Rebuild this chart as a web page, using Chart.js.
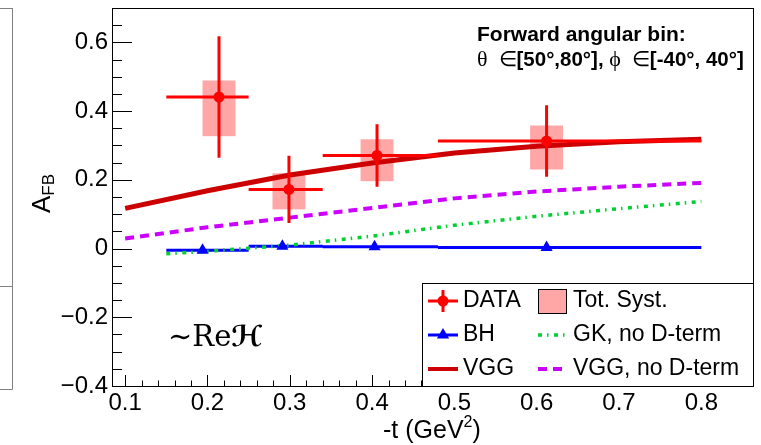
<!DOCTYPE html>
<html>
<head>
<meta charset="utf-8">
<script src="https://cdn.jsdelivr.net/npm/chart.js@4.4.1/dist/chart.umd.min.js"></script>
<style>
  html, body { margin: 0; padding: 0; background: #fff; }
  #wrap { width: 761px; height: 445px; }
</style>
</head>
<body>
<div id="wrap"><canvas id="afbChart" width="761" height="445"></canvas></div>
<script>
// measured A_FB, forward angular bin
const tData = [0.214, 0.299, 0.406, 0.612];
const tBinLo = [0.15, 0.25, 0.34, 0.48];
const tBinHi = [0.25, 0.34, 0.48, 0.80];
const afbData = [0.441, 0.172, 0.271, 0.313];
const afbStat = [0.177, 0.098, 0.091, 0.104];
const systLo = [0.327, 0.114, 0.196, 0.230];
const systHi = [0.489, 0.219, 0.318, 0.358];

// Bethe-Heitler only
const tBH = [0.194, 0.291, 0.403, 0.612];
const afbBH = [-0.005, 0.007, 0.005, 0.003];

// model curves
const tModel = [0.1, 0.2, 0.3, 0.4, 0.5, 0.6, 0.7, 0.8];
const afbVGG = [0.117, 0.168, 0.214, 0.249, 0.278, 0.298, 0.311, 0.318];
const afbVGGnoD = [0.029, 0.062, 0.090, 0.118, 0.146, 0.166, 0.180, 0.191];
const tGK = [0.15, 0.2, 0.3, 0.4, 0.5, 0.6, 0.7, 0.8];
const afbGK = [-0.015, -0.008, 0.010, 0.036, 0.068, 0.094, 0.116, 0.137];

const xTicks = [0.1, 0.2, 0.3, 0.4, 0.5, 0.6, 0.7, 0.8];
const xTickLabels = ['0.1', '0.2', '0.3', '0.4', '0.5', '0.6', '0.7', '0.8'];
const yTicks = [-0.4, -0.2, 0, 0.2, 0.4, 0.6];
const yTickLabels = ['\u22120.4', '\u22120.2', '0', '0.2', '0.4', '0.6'];

const SANS = "'Liberation Sans', Arial, Helvetica, sans-serif";
const RED = '#ff0000', SYST = '#ffa6a6', DARKRED = '#cc0000';
const BLUE = '#0000ff', GREEN = '#00d030', MAGENTA = '#cc00ff';
const GK_DASH = [4, 5, 1.5, 5.5], NOD_DASH = [9, 6];

// error bars as broken line segments
const hErr = tData.flatMap((t, i) => [
  {x: tBinLo[i], y: afbData[i]}, {x: tBinHi[i], y: afbData[i]}, {x: tBinHi[i], y: null}]);
const vErr = tData.flatMap((t, i) => [
  {x: t, y: afbData[i] - afbStat[i]}, {x: t, y: afbData[i] + afbStat[i]}, {x: t, y: null}]);
const bhBins = tBH.flatMap((t, i) => [
  {x: tBinLo[i], y: afbBH[i]}, {x: tBinHi[i], y: afbBH[i]}, {x: tBinHi[i], y: null}]);

const toXY = (xs, ys) => xs.map((x, i) => ({x: x, y: ys[i]}));

const systBoxes = {
  id: 'systBoxes',
  beforeDatasetsDraw(chart) {
    const ctx = chart.ctx, xs = chart.scales.x, ys = chart.scales.y;
    ctx.save();
    ctx.fillStyle = SYST;
    tData.forEach((t, i) => {
      const x0 = xs.getPixelForValue(t - 0.02), x1 = xs.getPixelForValue(t + 0.02);
      const y0 = ys.getPixelForValue(systHi[i]), y1 = ys.getPixelForValue(systLo[i]);
      ctx.fillRect(x0, y0, x1 - x0, y1 - y0);
    });
    ctx.restore();
  }
};

function line(ctx, x0, y0, x1, y1) {
  ctx.beginPath(); ctx.moveTo(x0, y0); ctx.lineTo(x1, y1); ctx.stroke();
}

const decor = {
  id: 'decor',
  afterDraw(chart) {
    const ctx = chart.ctx, a = chart.chartArea, xs = chart.scales.x, ys = chart.scales.y;
    ctx.save();

    // piece of the neighbouring pad
    ctx.strokeStyle = '#808080'; ctx.lineWidth = 1;
    line(ctx, 12.5, 8, 12.5, 389.5);
    line(ctx, 0, 8.5, 12.5, 8.5);
    line(ctx, 0, 286.5, 12.5, 286.5);
    line(ctx, 0, 389.5, 12.5, 389.5);

    // frame
    ctx.strokeStyle = '#000'; ctx.lineWidth = 1;
    ctx.strokeRect(Math.round(a.left) + 0.5, Math.round(a.top) + 0.5, Math.round(a.width) - 1, Math.round(a.height));

    // inward ticks
    for (let i = 5; i <= 43; i++) {
      const px = Math.round(xs.getPixelForValue(i * 0.02)) + 0.5;
      const len = i % 5 === 0 ? 11 : 5.5;
      line(ctx, px, a.bottom, px, a.bottom - len);
    }
    for (let i = -8; i <= 13; i++) {
      const py = Math.round(ys.getPixelForValue(i * 0.05)) + 0.5;
      const len = i % 4 === 0 ? 20 : 10;
      line(ctx, a.left, py, a.left + len, py);
    }

    // axis titles
    ctx.fillStyle = '#000';
    ctx.textBaseline = 'alphabetic';
    ctx.textAlign = 'left';
    ctx.font = '25px ' + SANS;
    let x = 383;
    ctx.fillText('-t (GeV', x, 438);
    x += ctx.measureText('-t (GeV').width;
    ctx.font = '16px ' + SANS;
    ctx.fillText('2', x, 427);
    x += ctx.measureText('2').width;
    ctx.font = '25px ' + SANS;
    ctx.fillText(')', x, 438);

    ctx.save();
    ctx.translate(50, 213);
    ctx.rotate(-Math.PI / 2);
    ctx.font = '26px ' + SANS;
    ctx.fillText('A', 0, 0);
    const wA = ctx.measureText('A').width;
    ctx.font = '17px ' + SANS;
    ctx.fillText('FB', wA, 4);
    ctx.restore();

    // annotation
    ctx.font = 'bold 21px ' + SANS;
    ctx.fillText('Forward angular bin:', 477, 41);
    const parts = [
      ['22px "Liberation Serif", serif', '\u03b8  '],
      ['21px ' + SANS, '\u2208'],
      ['bold 20.5px ' + SANS, '[50\u00b0,80\u00b0], '],
      ['22px "Liberation Serif", serif', '\u03d5  '],
      ['21px ' + SANS, '\u2208'],
      ['bold 20.5px ' + SANS, '[-40\u00b0, 40\u00b0]']
    ];
    x = 477;
    parts.forEach(p => {
      ctx.font = p[0];
      ctx.fillText(p[1], x, 66);
      x += ctx.measureText(p[1]).width;
    });

    ctx.font = '29px "DejaVu Serif", serif';
    ctx.fillText('\u223cRe', 168, 346);
    const wRe = ctx.measureText('\u223cRe').width;
    ctx.font = 'bold 29px "DejaVu Sans", sans-serif';
    ctx.fillText('\u210b', 168 + wRe, 346);

    // legend
    const L = 422, T = 283, R = Math.round(a.right), B = Math.round(a.bottom);
    ctx.fillStyle = '#fff';
    ctx.fillRect(L, T, R - L, B - T);
    ctx.strokeStyle = '#000'; ctx.lineWidth = 1;
    ctx.strokeRect(L + 0.5, T + 0.5, R - L - 1, B - T);

    const rows = [301, 335, 369];
    const c1 = 443;
    // DATA
    ctx.strokeStyle = RED; ctx.lineWidth = 3;
    line(ctx, 428, rows[0], 458, rows[0]);
    line(ctx, c1, rows[0] - 11, c1, rows[0] + 11);
    ctx.fillStyle = RED;
    ctx.beginPath(); ctx.arc(c1, rows[0], 5.5, 0, Math.PI * 2); ctx.fill();
    // BH
    ctx.strokeStyle = BLUE;
    line(ctx, 428, rows[1], 458, rows[1]);
    ctx.fillStyle = BLUE;
    ctx.beginPath();
    ctx.moveTo(c1, rows[1] - 7); ctx.lineTo(c1 + 6.1, rows[1] + 3.5); ctx.lineTo(c1 - 6.1, rows[1] + 3.5);
    ctx.closePath(); ctx.fill();
    // VGG
    ctx.strokeStyle = DARKRED; ctx.lineWidth = 4;
    line(ctx, 428, rows[2], 458, rows[2]);
    // Tot. Syst.
    ctx.fillStyle = SYST;
    ctx.fillRect(538, 289, 28, 24);
    ctx.strokeStyle = '#000'; ctx.lineWidth = 1;
    ctx.strokeRect(538.5, 289.5, 28, 24);
    // GK
    ctx.strokeStyle = GREEN; ctx.lineWidth = 3.5; ctx.setLineDash(GK_DASH);
    line(ctx, 538, rows[1], 566, rows[1]);
    // VGG no D
    ctx.strokeStyle = MAGENTA; ctx.lineWidth = 4; ctx.setLineDash(NOD_DASH);
    line(ctx, 538, rows[2], 566, rows[2]);
    ctx.setLineDash([]);

    ctx.fillStyle = '#000';
    ctx.font = '23px ' + SANS;
    ctx.textBaseline = 'middle';
    ctx.fillText('DATA', 463, rows[0]);
    ctx.fillText('BH', 463, rows[1]);
    ctx.fillText('VGG', 463, rows[2]);
    ctx.fillText('Tot. Syst.', 573, rows[0]);
    ctx.fillText('GK, no D-term', 573, rows[1]);
    ctx.fillText('VGG, no D-term', 573, rows[2]);

    ctx.restore();
  }
};

new Chart(document.getElementById('afbChart'), {
  type: 'scatter',
  data: {
    datasets: [
      { data: toXY(tData, afbData), pointStyle: 'circle', pointRadius: 5.5,
        backgroundColor: RED, borderColor: RED, borderWidth: 0, order: 0 },
      { data: vErr, showLine: true, spanGaps: false, borderColor: RED, borderWidth: 3,
        pointRadius: 0, order: 1 },
      { data: hErr, showLine: true, spanGaps: false, borderColor: RED, borderWidth: 3,
        pointRadius: 0, order: 1 },
      { data: toXY(tBH, afbBH), pointStyle: 'triangle', pointRadius: 7,
        backgroundColor: BLUE, borderColor: BLUE, borderWidth: 0, order: 2 },
      { data: toXY(tGK, afbGK), showLine: true, borderColor: GREEN, borderWidth: 3.5,
        borderDash: GK_DASH, pointRadius: 0, order: 3 },
      { data: bhBins, showLine: true, spanGaps: false, borderColor: BLUE, borderWidth: 3,
        pointRadius: 0, order: 4 },
      { data: toXY(tModel, afbVGG), showLine: true, borderColor: DARKRED, borderWidth: 5,
        pointRadius: 0, order: 5 },
      { data: toXY(tModel, afbVGGnoD), showLine: true, borderColor: MAGENTA, borderWidth: 4,
        borderDash: NOD_DASH, pointRadius: 0, order: 6 }
    ]
  },
  options: {
    responsive: false,
    animation: false,
    devicePixelRatio: 1,
    layout: { padding: { left: 0, top: 8, right: 7, bottom: 0 } },
    plugins: { legend: { display: false }, tooltip: { enabled: false } },
    scales: {
      x: {
        type: 'linear', min: 0.084, max: 0.864,
        grid: { display: false, drawTicks: false }, border: { display: false },
        afterFit: s => { s.height = 59; s.paddingLeft = 0; s.paddingRight = 0; },
        afterBuildTicks: s => { s.ticks = xTicks.map(v => ({value: v})); },
        ticks: { color: '#000', font: { family: SANS, size: 24 }, padding: 3,
                 maxRotation: 0, autoSkip: false, callback: (v, i) => xTickLabels[i] }
      },
      y: {
        type: 'linear', min: -0.4, max: 0.7,
        grid: { display: false, drawTicks: false }, border: { display: false },
        afterFit: s => { s.width = 112; s.paddingTop = 0; s.paddingBottom = 0; },
        afterBuildTicks: s => { s.ticks = yTicks.map(v => ({value: v})); },
        ticks: { color: '#000', font: { family: SANS, size: 24 }, padding: 4,
                 autoSkip: false, callback: (v, i) => yTickLabels[i] }
      }
    }
  },
  plugins: [systBoxes, decor]
});
</script>
</body>
</html>
